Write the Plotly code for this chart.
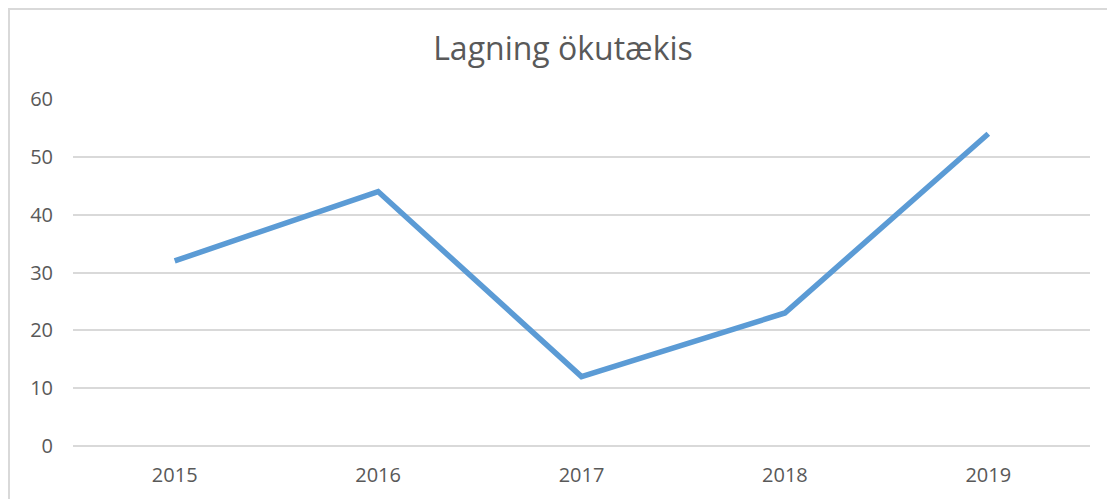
import plotly.graph_objects as go

years = ["2015", "2016", "2017", "2018", "2019"]
values = [32, 44, 12, 23, 54]
title_text = "Lagning ökutækis"

# page body has an 8px margin, so figure coords = screen coords - 8
OFF = 8
W, H = 1115 - OFF, 499 - OFF
L = 73 - OFF
T = 99 - OFF
R = W - (1090 - OFF)
B = H - (446 - OFF)
pw, ph = W - L - R, H - T - B

fig = go.Figure()
fig.add_trace(go.Scatter(
    x=years, y=values, mode="lines",
    line=dict(color="#5B9BD5", width=5.5, shape="linear"),
    hoverinfo="x+y", showlegend=False,
))

bx0 = (1 - L) / pw
by1 = 1 + (T - 1) / ph
fig.add_shape(type="path", xref="paper", yref="paper",
              path=f"M {bx0},-0.5 L {bx0},{by1} L 1.2,{by1}",
              line=dict(color="#D9D9D9", width=2))

fig.update_layout(
    width=W, height=H,
    margin=dict(l=L, r=R, t=T, b=B),
    paper_bgcolor="white", plot_bgcolor="white",
    title=dict(text=title_text, x=(563 - OFF) / W, xanchor="center",
               y=1 - (49 - OFF) / H, yanchor="middle",
               font=dict(family="Open Sans", size=32, color="#595959")),
    font=dict(family="Open Sans", color="#595959", size=20),
    xaxis=dict(type="category", range=[-0.5, 4.5], showgrid=False, zeroline=False,
               showline=False, ticks="", tickfont=dict(size=20, color="#595959"),
               ticklabelstandoff=15),
    yaxis=dict(range=[0, 60], dtick=10, showgrid=True, gridcolor="#D9D9D9", gridwidth=2,
               zeroline=True, zerolinecolor="#D9D9D9", zerolinewidth=2,
               showline=False, ticks="",
               tickfont=dict(size=20, color="#595959"), ticklabelstandoff=19),
)

fig.write_html("out.html")
